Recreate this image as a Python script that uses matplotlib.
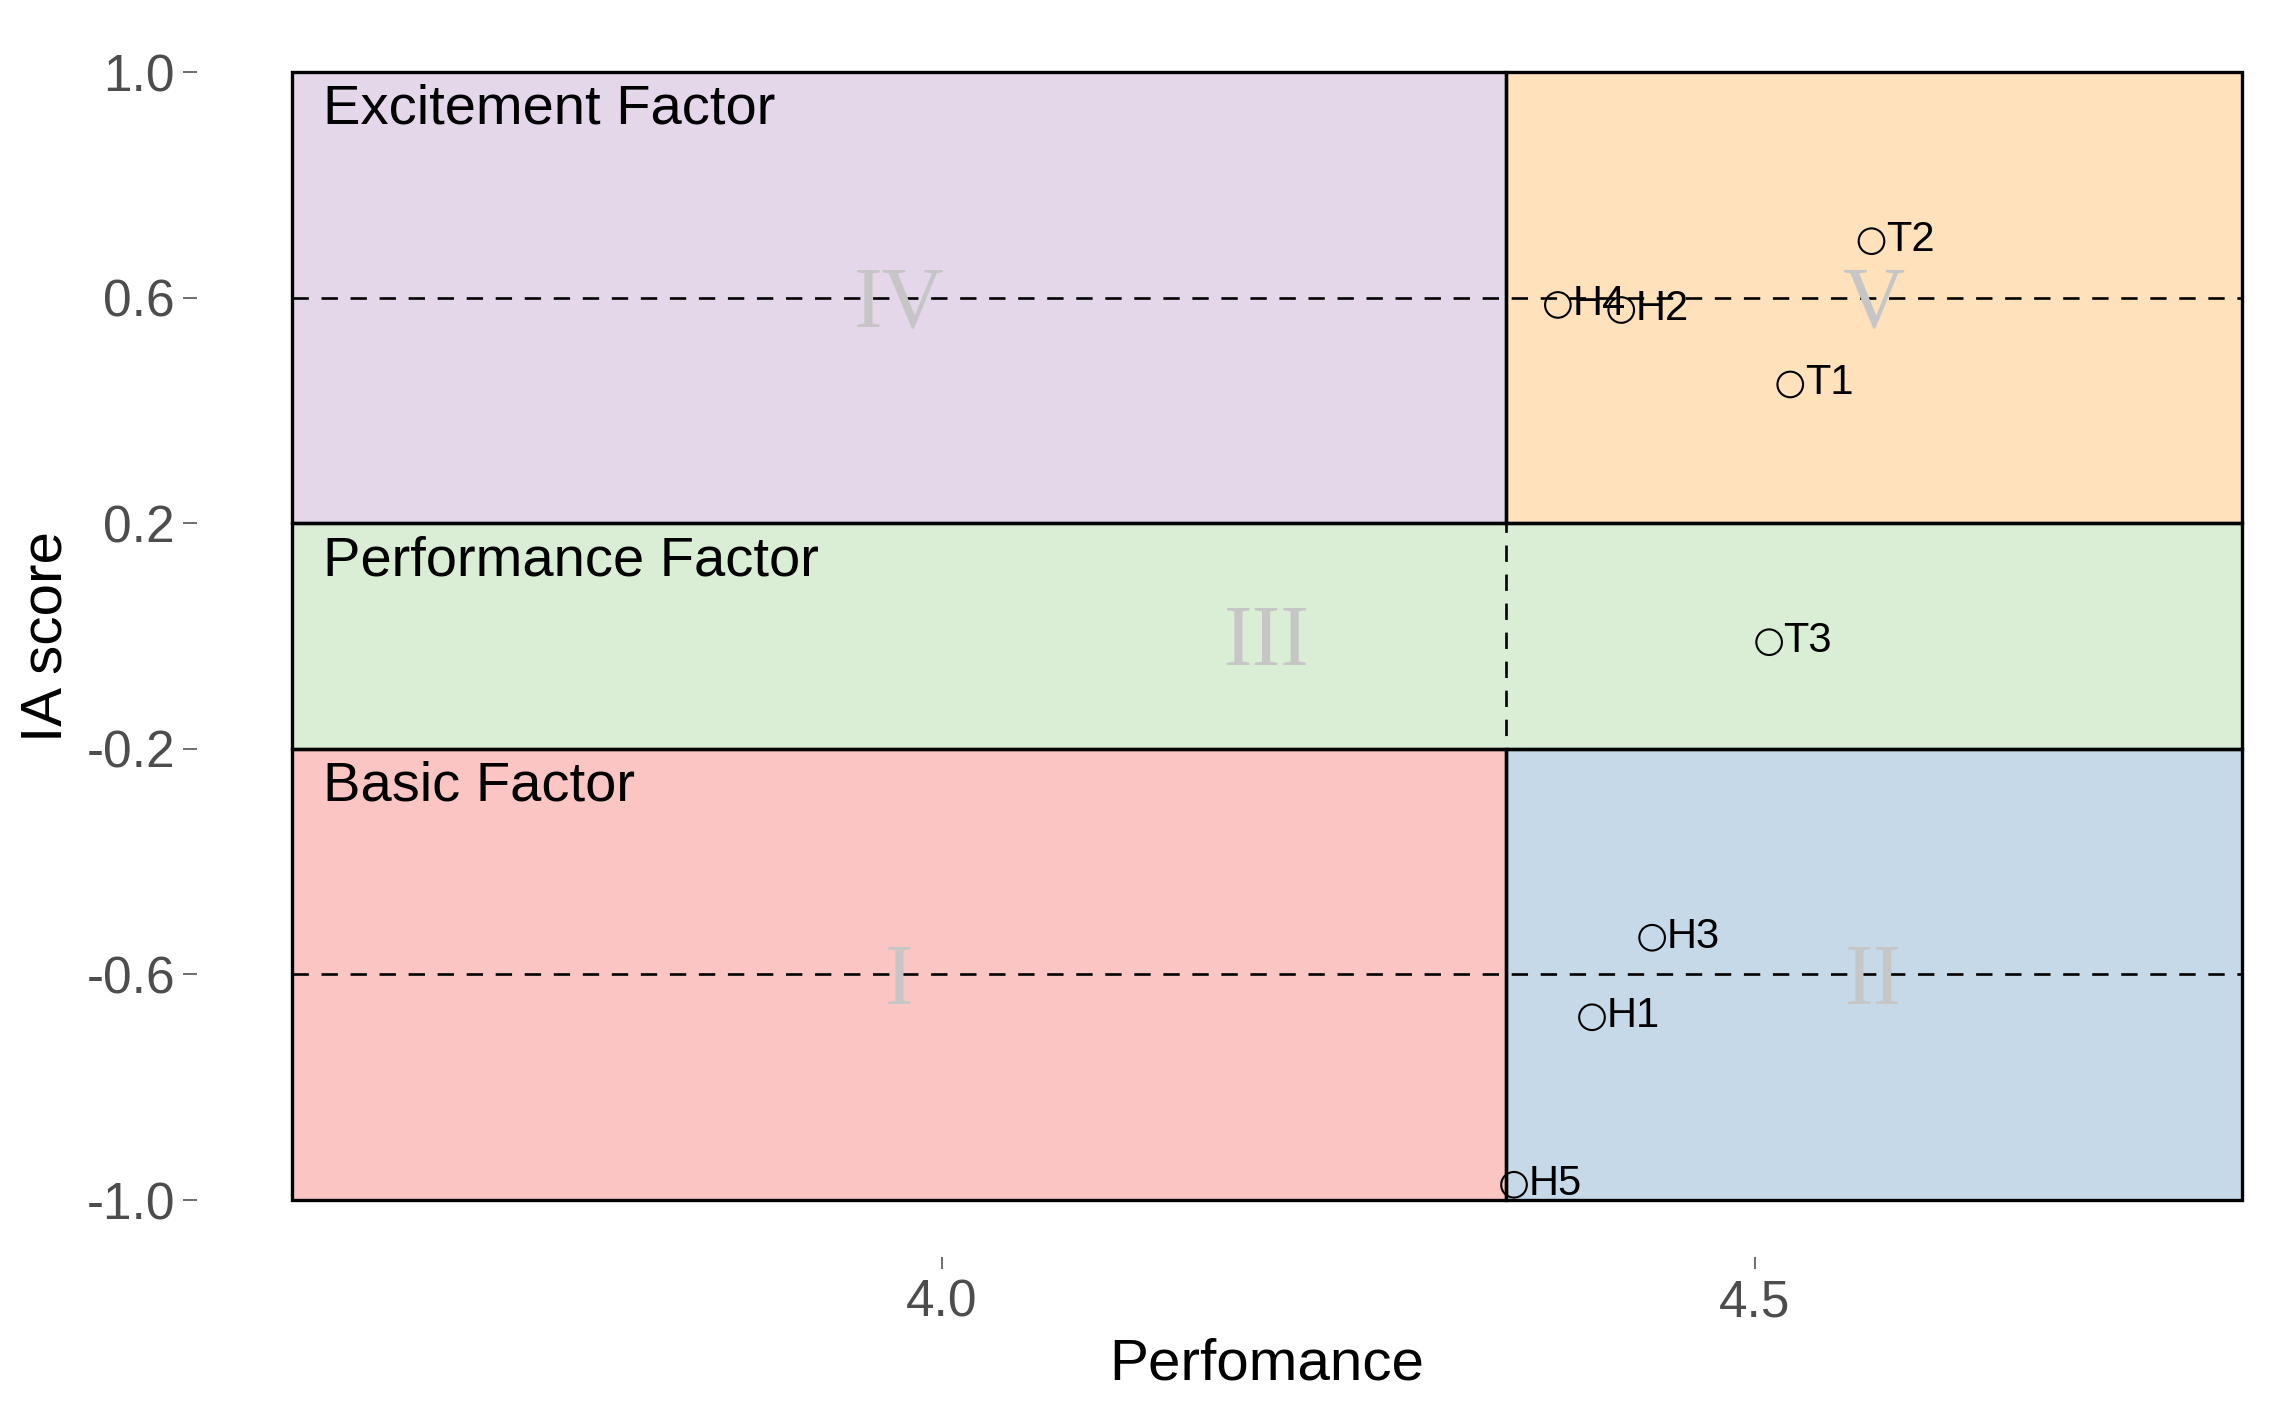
import matplotlib
matplotlib.use("Agg")
import matplotlib.pyplot as plt
from matplotlib.patches import Rectangle

# ---- data ----
point_labels = ["H1", "H2", "H3", "H4", "H5", "T1", "T2", "T3"]
performance = [4.400, 4.418, 4.437, 4.379, 4.352, 4.522, 4.572, 4.509]
ia_score = [-0.676, 0.578, -0.535, 0.587, -0.973, 0.446, 0.700, -0.011]

x_range = (3.6, 4.8)
y_range = (-1.0, 1.0)
perf_cut = 4.347
ia_cuts = [-0.2, 0.2]
dashed_levels = [-0.6, 0.6]

x_ticks = [4.0, 4.5]
y_ticks = [-1.0, -0.6, -0.2, 0.2, 0.6, 1.0]

# regions: (xmin, xmax, ymin, ymax, colour)
regions = [
    (x_range[0], perf_cut, ia_cuts[1], y_range[1], "#E4D7EA"),
    (perf_cut, x_range[1], ia_cuts[1], y_range[1], "#FFE2BC"),
    (x_range[0], x_range[1], ia_cuts[0], ia_cuts[1], "#D9EED4"),
    (x_range[0], perf_cut, y_range[0], ia_cuts[0], "#FBC5C3"),
    (perf_cut, x_range[1], y_range[0], ia_cuts[0], "#C6D9E8"),
]

factor_names = ["Excitement Factor", "Performance Factor", "Basic Factor"]
factor_tops = [1.0, 0.2, -0.2]

roman_labels = ["IV", "V", "III", "I", "II"]
roman_x = [(x_range[0] + perf_cut) / 2, (perf_cut + x_range[1]) / 2,
           (x_range[0] + x_range[1]) / 2,
           (x_range[0] + perf_cut) / 2, (perf_cut + x_range[1]) / 2]
roman_y = [0.6, 0.6, 0.0, -0.6, -0.6]

plt.rcParams["font.family"] = ["Liberation Sans", "DejaVu Sans"]

DPI = 200
fig = plt.figure(figsize=(2283 / DPI, 1409 / DPI), dpi=DPI)
ax = fig.add_axes([292 / 2283, 1 - 1200 / 1409, 1950 / 2283, 1128 / 1409])
ax.set_xlim(*x_range)
ax.set_ylim(*y_range)
ax.set_facecolor("white")

for (x0, x1, y0, y1, col) in regions:
    ax.add_patch(Rectangle((x0, y0), x1 - x0, y1 - y0, facecolor=col,
                           edgecolor="none", zorder=1))

# dashed reference lines
for lvl in dashed_levels:
    ax.plot(x_range, [lvl, lvl], color="black", lw=0.95, dashes=(6.2, 4.8), zorder=2)
ax.plot([perf_cut, perf_cut], y_range, color="black", lw=0.95, dashes=(6.2, 4.8), zorder=2)

# region borders
for (x0, x1, y0, y1, col) in regions:
    ax.add_patch(Rectangle((x0, y0), x1 - x0, y1 - y0, facecolor="none",
                           edgecolor="black", lw=1.2, zorder=3, clip_on=False))

# roman numerals
for lab, rx, ry in zip(roman_labels, roman_x, roman_y):
    ax.annotate(lab, (rx, ry), xytext=(0, -10.5), textcoords="offset points",
                ha="center", va="baseline", fontsize=31, color="#C6C6C6",
                family=["Liberation Serif", "DejaVu Serif"], zorder=2.5)

# factor names
for name, top in zip(factor_names, factor_tops):
    ax.text(3.619, top - 0.092, name, ha="left", va="baseline", fontsize=20.2,
            color="black", zorder=4)

# points
ax.scatter(performance, ia_score, s=85, facecolors="none", edgecolors="black",
           linewidths=0.75, zorder=5, clip_on=False)
for lab, px, py in zip(point_labels, performance, ia_score):
    ax.annotate(lab, (px, py), xytext=(5.2, -3.6), textcoords="offset points",
                ha="left", va="baseline", fontsize=15, color="black", zorder=6)

# axes styling
for side in ["top", "right", "left", "bottom"]:
    ax.spines[side].set_visible(False)
ax.spines["left"].set_position(("outward", 34.2))
ax.spines["bottom"].set_position(("outward", 20.5))
ax.set_xticks(x_ticks)
ax.set_yticks(y_ticks)
ax.set_xticklabels([f"{v:.1f}" for v in x_ticks])
ax.set_yticklabels([f"{v:.1f}" for v in y_ticks])
ax.tick_params(axis="y", length=5, width=0.6, color="#555555", pad=2.9,
               labelsize=18.5, labelcolor="#4D4D4D")
ax.tick_params(axis="x", length=4.3, width=0.6, color="#555555", pad=3.6,
               labelsize=18.5, labelcolor="#4D4D4D")

ax.set_xlabel("Perfomance", fontsize=21, color="black")
ax.xaxis.label.set_va("baseline")
ax.xaxis.set_label_coords(0.5, -(1379 - 1200) / 1128)
ax.set_ylabel("IA score", fontsize=21, color="black")
ax.yaxis.label.set_va("center")
ax.yaxis.set_label_coords((47 - 292) / 1950, 0.5)

fig.savefig("out.png", dpi=DPI, facecolor="white")
